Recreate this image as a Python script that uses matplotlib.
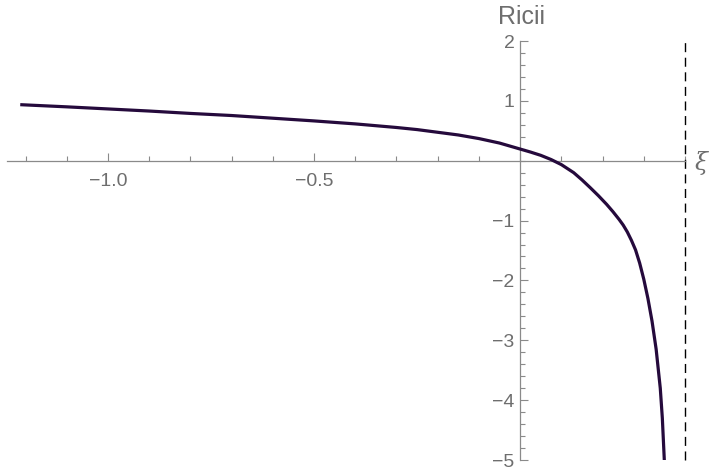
import matplotlib
matplotlib.use("Agg")
import matplotlib.pyplot as plt
from matplotlib.ticker import MultipleLocator, FixedLocator, FuncFormatter

plt.rcParams['font.family'] = ['Liberation Sans', 'DejaVu Sans']

# curve
xi = [-1.209, -1.1, -1.0, -0.9, -0.8, -0.7, -0.6, -0.5, -0.4, -0.3,
      -0.25, -0.2, -0.15, -0.1, -0.05, 0.0, 0.025, 0.05, 0.075, 0.10,
      0.13, 0.15, 0.17, 0.19, 0.21, 0.225, 0.24, 0.25, 0.26, 0.27,
      0.28, 0.29, 0.30, 0.31, 0.32, 0.33, 0.34, 0.345, 0.350]
ricci = [0.935, 0.90, 0.865, 0.83, 0.79, 0.755, 0.71, 0.665, 0.615, 0.555,
         0.52, 0.475, 0.43, 0.37, 0.295, 0.195, 0.145, 0.09, 0.02, -0.065,
         -0.2, -0.32, -0.45, -0.585, -0.73, -0.85, -0.98, -1.075, -1.19, -1.33,
         -1.49, -1.71, -1.98, -2.3, -2.68, -3.15, -3.8, -4.3, -5.03]
asymptote = 0.40

xmin, xmax = -1.245, 0.40
ymin, ymax = -5, 2
x_major = [-1.0, -0.5]
y_major = [-5, -4, -3, -2, -1, 1, 2]

W, H = 711, 473
fig = plt.figure(figsize=(W / 100, H / 100), dpi=100)
ax = fig.add_axes([7 / W, 1 - 460 / H, (685 - 7) / W, (460 - 41) / H])

ax.plot(xi, ricci, color='#250a3c', lw=2.3, solid_joinstyle='round', zorder=3)
ax.axvline(asymptote, color='black', lw=1.0, dashes=(6.5, 4), clip_on=False, zorder=2)

ax.set_xlim(xmin, xmax)
ax.set_ylim(ymin, ymax)

grey = '#8a8a8a'
for s in ['top', 'right']:
    ax.spines[s].set_visible(False)
ax.spines['left'].set_position(('data', 0))
ax.spines['bottom'].set_position(('data', 0))
ax.spines['left'].set_color(grey)
ax.spines['bottom'].set_color(grey)
ax.spines['left'].set_linewidth(0.9)
ax.spines['bottom'].set_linewidth(0.9)

ax.xaxis.set_major_locator(FixedLocator(x_major + [0.0]))
ax.xaxis.set_minor_locator(MultipleLocator(0.1))
ax.yaxis.set_major_locator(FixedLocator(y_major))
ax.yaxis.set_minor_locator(MultipleLocator(0.2))

ax.xaxis.set_major_formatter(FuncFormatter(
    lambda v, p: '' if abs(v) < 1e-9 else ('%.1f' % v).replace('-', '\u2212')))
ax.yaxis.set_major_formatter(FuncFormatter(
    lambda v, p: ('%d' % v).replace('-', '\u2212')))

ax.tick_params(axis='both', which='both', direction='in', colors=grey,
               labelcolor='#6e6e6e', labelsize=14, width=0.8)
ax.tick_params(axis='both', which='major', length=6)
ax.tick_params(axis='both', which='minor', length=3.5)
ax.tick_params(axis='x', pad=9)
ax.tick_params(axis='y', pad=4)

fig.text(521 / W, 1 - 17 / H, 'Ricii', ha='center', va='center',
         color='#6e6e6e', fontsize=18)
fig.text(695 / W, 1 - 163 / H, '\u03be', ha='left', va='center',
         color='#6e6e6e', fontsize=17, family=['DejaVu Serif'], style='italic')

fig.savefig('out.png', dpi=100)
